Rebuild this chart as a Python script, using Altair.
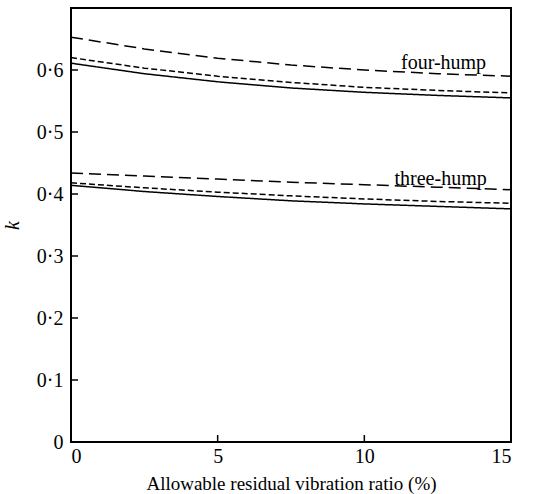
import altair as alt
import pandas as pd

x_vals = [0, 2.5, 5, 7.5, 10, 12.5, 15]
four_long = [0.653, 0.634, 0.619, 0.608, 0.600, 0.594, 0.590]
four_short = [0.620, 0.603, 0.590, 0.580, 0.572, 0.567, 0.563]
four_solid = [0.611, 0.594, 0.581, 0.571, 0.564, 0.559, 0.555]
three_long = [0.434, 0.429, 0.424, 0.419, 0.415, 0.411, 0.407]
three_short = [0.418, 0.410, 0.403, 0.397, 0.392, 0.388, 0.385]
three_solid = [0.414, 0.404, 0.396, 0.389, 0.384, 0.380, 0.376]

label_text = ["four-hump", "three-hump"]
label_x = [12.7, 12.6]
label_y = [0.612, 0.425]

y_ticks = [0, 0.1, 0.2, 0.3, 0.4, 0.5, 0.6]
x_ticks = [0, 5, 10, 15]

series = [
    ("four_long", "long", four_long),
    ("four_short", "short", four_short),
    ("four_solid", "solid", four_solid),
    ("three_long", "long", three_long),
    ("three_short", "short", three_short),
    ("three_solid", "solid", three_solid),
]
rows = []
for name, style, vals in series:
    for xv, yv in zip(x_vals, vals):
        rows.append({"series": name, "style": style, "x": xv, "k": yv})
df = pd.DataFrame(rows)

FONT = "Liberation Serif"
xscale = alt.Scale(domain=[0, 15], nice=False, zero=False)
yscale = alt.Scale(domain=[0, 0.7], nice=False)

lines = alt.Chart(df).mark_line(color="black", strokeWidth=1.5, clip=True).encode(
    x=alt.X("x:Q", scale=xscale,
            axis=alt.Axis(title="Allowable residual vibration ratio (%)", values=x_ticks,
                          tickSize=0, labelPadding=4, domain=False, grid=False,
                          labelFont=FONT, labelFontSize=20, labelColor="black",
                          titleFont=FONT, titleFontSize=19, titleFontWeight="normal",
                          titleColor="black", titlePadding=8)),
    y=alt.Y("k:Q", scale=yscale,
            axis=alt.Axis(title="k", values=y_ticks, tickSize=0, labelPadding=8,
                          domain=False, grid=False,
                          labelExpr="datum.value == 0 ? '0' : replace(format(datum.value, '.1f'), '.', '·')",
                          labelFont=FONT, labelFontSize=20, labelColor="black",
                          titleFont=FONT, titleFontSize=20, titleFontStyle="italic",
                          titleFontWeight="normal", titleColor="black", titlePadding=14)),
    detail="series:N",
    strokeDash=alt.StrokeDash("style:N",
                              scale=alt.Scale(domain=["long", "short", "solid"],
                                              range=[[12, 6], [6, 3], [1, 0]]),
                              legend=None),
)

lab_df = pd.DataFrame({"text": label_text, "x": label_x, "k": label_y})
labels = alt.Chart(lab_df).mark_text(font=FONT, fontSize=20, color="black").encode(
    x=alt.X("x:Q", scale=xscale), y=alt.Y("k:Q", scale=yscale), text="text:N"
)

ytick_df = pd.DataFrame({"k": y_ticks})
yticks = alt.Chart(ytick_df).mark_rule(color="black", strokeWidth=1.5).encode(
    y=alt.Y("k:Q", scale=yscale), x=alt.value(0), x2=alt.value(7)
)
xtick_df = pd.DataFrame({"x": x_ticks[1:-1]})
xticks = alt.Chart(xtick_df).mark_rule(color="black", strokeWidth=1.5).encode(
    x=alt.X("x:Q", scale=xscale), y=alt.value(434), y2=alt.value(427)
)

chart = alt.layer(lines, labels, yticks, xticks).properties(
    width=440, height=434,
    background="white",
    autosize=alt.AutoSizeParams(type="none"),
    padding={"left": 71, "top": 8, "right": 42, "bottom": 52},
).configure_view(stroke="black", strokeWidth=2)

chart.save("out.html", embed_options={"renderer": "svg", "actions": False})
